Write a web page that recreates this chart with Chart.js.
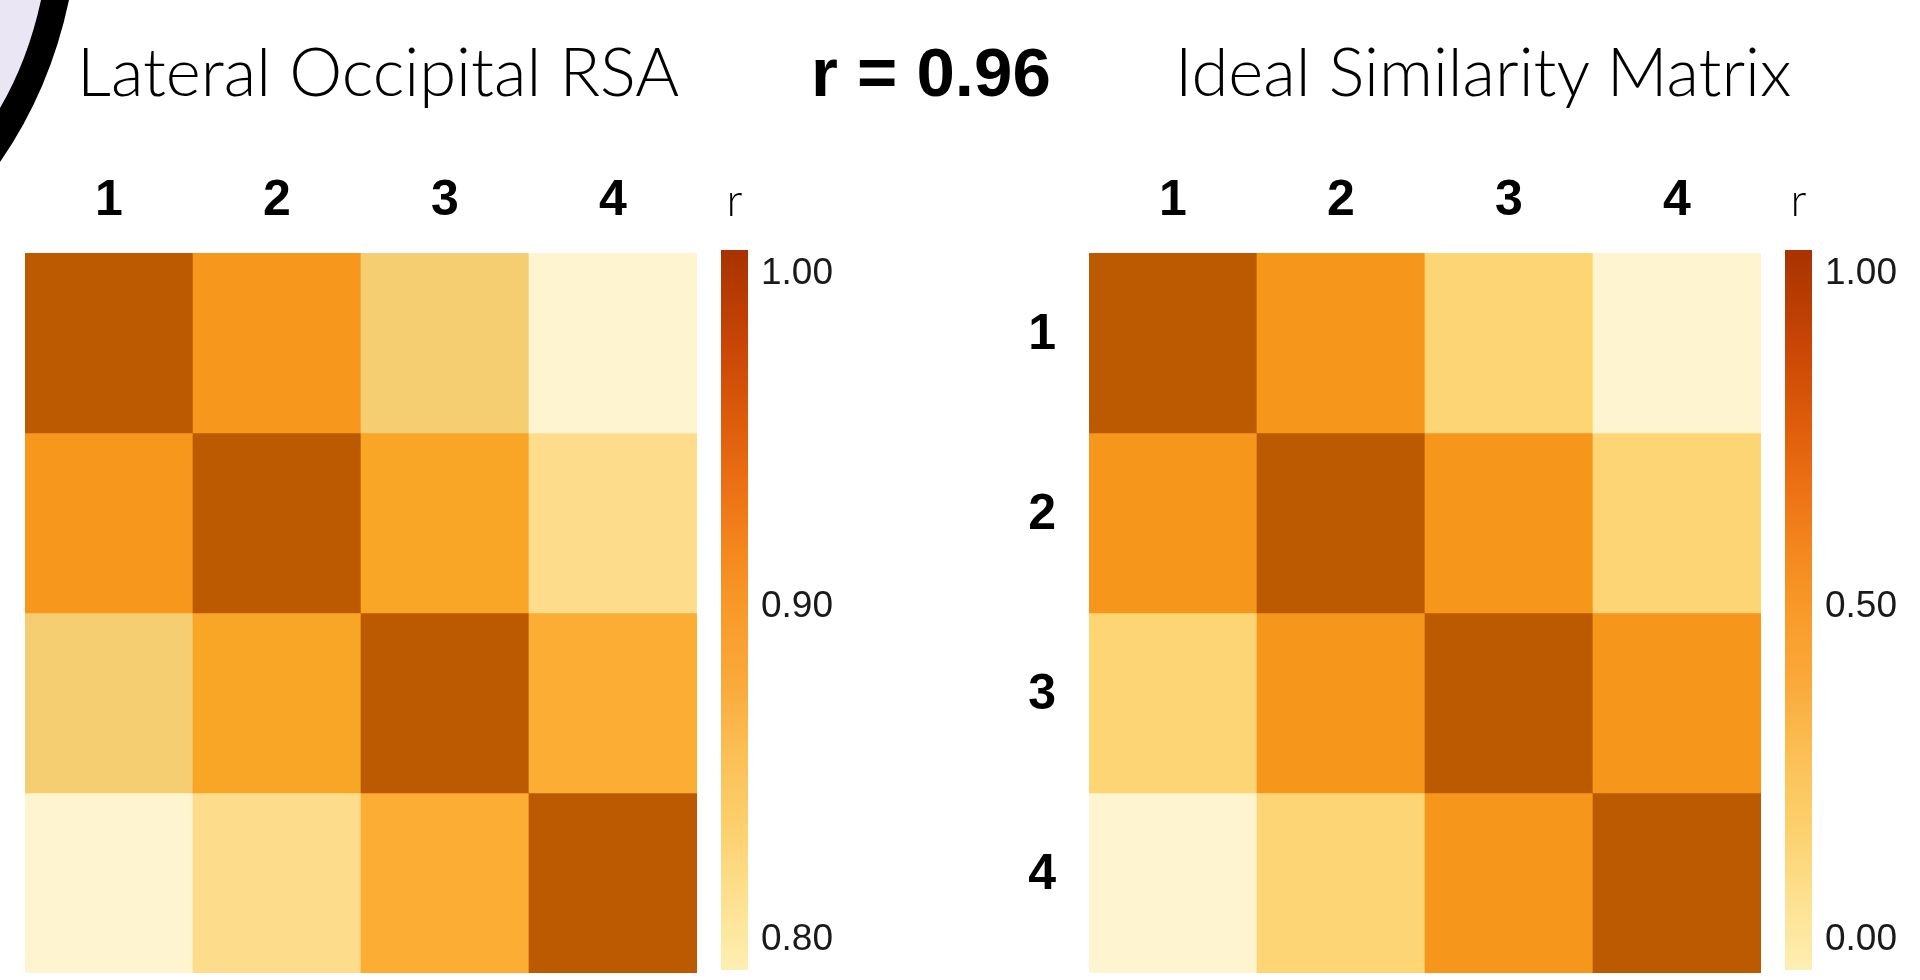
<!DOCTYPE html>
<html>
<head>
<meta charset="utf-8">
<title>Lateral Occipital RSA vs Ideal Similarity Matrix</title>
<script src="https://cdn.jsdelivr.net/npm/chart.js@4.4.1/dist/chart.umd.min.js"></script>
<style>
  html, body { margin: 0; padding: 0; background: #ffffff; }
  body { width: 1920px; height: 980px; position: relative; overflow: hidden; }
  canvas { position: absolute; display: block; }
  svg.overlay { position: absolute; left: 0; top: 0; }
</style>
</head>
<body>
<svg class="overlay" width="1920" height="230" xmlns="http://www.w3.org/2000/svg">
  <!-- corner ornament -->
  <path d="M0 0 L41 0 Q28 60 0 108 Z" fill="#ebe6f4"/>
  <path d="M41 0 L69 0 Q50 90 0 162 L0 108 Q28 60 41 0 Z" fill="#000"/>
  <text x="77" y="96" font-family="Lato, 'Open Sans', sans-serif" font-weight="300" font-size="67" fill="#000">Lateral Occipital RSA</text>
  <text x="811" y="96" font-family="'Liberation Sans', Arial, sans-serif" font-weight="bold" font-size="69" fill="#000">r = 0.96</text>
  <text x="1175" y="96" font-family="Lato, 'Open Sans', sans-serif" font-weight="300" font-size="67" fill="#000">Ideal Similarity Matrix</text>
</svg>

<canvas id="loMatrix" width="672" height="823" style="left:25px;top:150px;"></canvas>
<canvas id="loBar" width="137" height="820" style="left:721px;top:150px;"></canvas>
<canvas id="idealMatrix" width="761" height="823" style="left:1000px;top:150px;"></canvas>
<canvas id="idealBar" width="135" height="820" style="left:1785px;top:150px;"></canvas>

<script>
// ---- data ----
const columnLabels = ['1', '2', '3', '4'];
const rowLabels = ['1', '2', '3', '4'];

// correlation between the activity patterns of conditions 1-4
const lateralOccipital = [
  [1.00, 0.92, 0.86, 0.80],
  [0.92, 1.00, 0.91, 0.85],
  [0.86, 0.91, 1.00, 0.905],
  [0.80, 0.85, 0.905, 1.00]
];
const idealSimilarity = [
  [1.00, 0.67, 0.33, 0.00],
  [0.67, 1.00, 0.67, 0.33],
  [0.33, 0.67, 1.00, 0.67],
  [0.00, 0.33, 0.67, 1.00]
];

const loRange = [0.80, 1.00];
const idealRange = [0.00, 1.00];
const loTicks = [0.80, 0.90, 1.00];
const idealTicks = [0.00, 0.50, 1.00];
const colorbarTitle = ['r'];

// ---- colour scales ----
const cellStops = [
  [0.00, '#fef5d0'], [0.25, '#fddc8b'], [0.30, '#f4ce70'], [0.33, '#fed574'],
  [0.525, '#fcad33'], [0.55, '#f9a627'], [0.60, '#f7971c'], [0.67, '#f6961b'], [1.00, '#bb5a00']
];
const barStops = [
  [0.00, '#fdefb2'], [0.10, '#fde08f'], [0.20, '#fcd06c'], [0.30, '#fbbf55'],
  [0.40, '#faa93a'], [0.50, '#f89a2a'], [0.57, '#f58a20'], [0.66, '#ee7315'],
  [0.77, '#dc5a0a'], [0.87, '#c84505'], [1.00, '#a83300']
];

function hexToRgb(h) { const n = parseInt(h.slice(1), 16); return [(n >> 16) & 255, (n >> 8) & 255, n & 255]; }
function sampleStops(stops, t) {
  t = Math.max(0, Math.min(1, t));
  for (let i = 1; i < stops.length; i++) {
    if (t <= stops[i][0]) {
      const [t0, c0] = stops[i - 1]; const [t1, c1] = stops[i];
      const f = (t - t0) / (t1 - t0 || 1);
      const a = hexToRgb(c0), b = hexToRgb(c1);
      return 'rgb(' + a.map((v, k) => Math.round(v + (b[k] - v) * f)).join(',') + ')';
    }
  }
  return stops[stops.length - 1][1];
}
function cellColor(v, range) { return sampleStops(cellStops, (v - range[0]) / (range[1] - range[0])); }

const tickFont = { family: "'Liberation Sans', Arial, sans-serif", size: 37 };
const headFont = { family: "'Liberation Sans', Arial, sans-serif", size: 50, weight: 'bold' };
const lightFont = { family: "Lato, 'Open Sans', sans-serif", size: 45, weight: '300' };
const noGrid = { display: false, drawTicks: false };
const noBorder = { display: false };
const quiet = { legend: { display: false }, tooltip: { enabled: false }, title: { display: false } };

// axes keep exactly the size given to them, without extra room for edge labels
function zeroPad(s) { s.paddingTop = 0; s.paddingBottom = 0; s.paddingLeft = 0; s.paddingRight = 0; }

// paints the colour-bar's bar with a vertical gradient spanning the plot area
const colorbarFill = {
  id: 'colorbarFill',
  beforeDatasetsDraw(chart) {
    const a = chart.chartArea;
    const g = chart.ctx.createLinearGradient(0, a.bottom, 0, a.top);
    barStops.forEach(([t, c]) => g.addColorStop(t, c));
    chart.getDatasetMeta(0).data.forEach(el => {
      el.options = Object.assign({}, el.options, { backgroundColor: g });
    });
  }
};

function heatmap(id, matrix, range, showRows) {
  const datasets = matrix.map((row, r) => ({
    label: 'row ' + rowLabels[r],
    data: row.map(() => [r, r + 1]),
    backgroundColor: ctx => cellColor(row[ctx.dataIndex], range),
    borderWidth: 0, grouped: false, barPercentage: 1, categoryPercentage: 1
  }));
  return new Chart(document.getElementById(id), {
    type: 'bar',
    data: { labels: columnLabels, datasets },
    options: {
      responsive: false, animation: false, events: [],
      layout: { padding: 0, autoPadding: false },
      plugins: quiet,
      scales: {
        x: {
          type: 'category', position: 'top', offset: true, grid: noGrid, border: noBorder,
          ticks: { font: headFont, color: '#000', padding: 22, maxRotation: 0 },
          afterFit: s => { zeroPad(s); s.height = 103; }
        },
        y: {
          type: 'linear', min: 0, max: rowLabels.length, reverse: true, display: showRows,
          grid: noGrid, border: noBorder,
          afterFit: s => { zeroPad(s); if (showRows) s.width = 89; },
          afterBuildTicks: s => { s.ticks = rowLabels.map((_, i) => ({ value: i + 0.5 })); },
          ticks: { font: headFont, color: '#000', padding: 33, labelOffset: -8, callback: (v, i) => rowLabels[i] }
        }
      }
    }
  });
}

function colorbar(id, range, ticks) {
  const span = range[1] - range[0];
  const lo = range[0] - span * 30 / 666;
  const hi = range[1] + span * 24 / 666;
  return new Chart(document.getElementById(id), {
    type: 'bar',
    data: {
      labels: colorbarTitle,
      datasets: [{
        label: 'r', data: [[lo, hi]], borderWidth: 0, barPercentage: 1, categoryPercentage: 1,
        backgroundColor: barStops[5][1]
      }]
    },
    plugins: [colorbarFill],
    options: {
      responsive: false, animation: false, events: [],
      layout: { padding: 0, autoPadding: false },
      plugins: quiet,
      scales: {
        x: {
          type: 'category', position: 'top', offset: true, grid: noGrid, border: noBorder,
          ticks: { font: lightFont, color: '#000', padding: 22, maxRotation: 0 },
          afterFit: s => { zeroPad(s); s.height = 100; }
        },
        y: {
          type: 'linear', position: 'right', min: lo, max: hi, grid: noGrid, border: noBorder,
          afterFit: s => { zeroPad(s); s.width = s.chart.width - 27; },
          afterBuildTicks: s => { s.ticks = ticks.map(v => ({ value: v })); },
          ticks: { font: tickFont, color: '#1a1a1a', padding: 13, callback: v => v.toFixed(2) }
        }
      }
    }
  });
}

heatmap('loMatrix', lateralOccipital, loRange, false);
colorbar('loBar', loRange, loTicks);
heatmap('idealMatrix', idealSimilarity, idealRange, true);
colorbar('idealBar', idealRange, idealTicks);
</script>
</body>
</html>
